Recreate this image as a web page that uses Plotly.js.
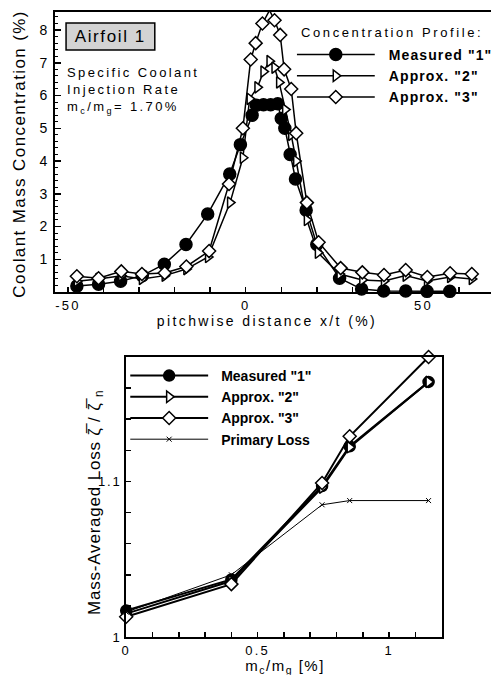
<!DOCTYPE html>
<html><head><meta charset="utf-8">
<script src="https://cdn.plot.ly/plotly-3.0.1.min.js"></script>
<style>
body{margin:0;background:#fff}
#chart{width:498px;height:675px}
.legendtext { letter-spacing: 1.1px; }
.xtick text, .x2tick text { letter-spacing: 2.2px; }
.y2tick text { letter-spacing: 1.8px; }
g.annotation[data-index="0"] text { letter-spacing: 1.6px; }
g.annotation[data-index="1"] text { letter-spacing: 2.4px; }
g.annotation[data-index="2"] text { letter-spacing: 2.6px; }
g.annotation[data-index="3"] text { letter-spacing: 2.4px; }
g.annotation[data-index="4"] text { letter-spacing: 1.4px; }
g.annotation[data-index="5"] text { letter-spacing: 1.5px; }
g.annotation[data-index="6"] text { letter-spacing: 0.8px; }
</style>
</head><body>
<div id="chart"></div>
<script>
// ---- Top chart: concentration profiles ----
const measX = [-47.5,-41.4,-35.2,-29.1,-22.9,-16.8,-10.7,-4.5,-1.5,1.8,3,5,7,9,10,11,12.5,14,17,20,26.4,32.6,38.8,45,51,57.4];
const measY = [0.18,0.24,0.33,0.5,0.85,1.45,2.38,3.6,4.5,5.4,5.7,5.72,5.72,5.75,5.3,5.0,4.2,3.45,2.5,1.45,0.42,0.09,0.03,0.03,0.02,0.02];
const appr2X = [-47.5,-41.4,-35,-29.2,-22.8,-16.7,-10.6,-4.4,-0.8,1.1,3.3,5,6.7,8.1,9.4,11.1,12.8,14.2,17.2,20.3,26.4,32.8,38.9,45,51,57.5,63.6];
const appr2Y = [0.33,0.4,0.5,0.4,0.5,0.7,1.07,2.73,4.1,5.9,6.25,6.73,7.05,6.85,6.4,5.57,4.8,4.0,2.2,1.2,0.55,0.37,0.34,0.5,0.34,0.46,0.4];
const appr3X = [-47.5,-41.4,-35,-29.2,-22.8,-16.7,-10.3,-4.7,-0.8,1.4,2.8,4.7,6.7,8.1,9.7,10.8,12.8,14.2,17.2,20.5,26.7,32.8,38.9,45,51.1,57.5,63.6];
const appr3Y = [0.48,0.42,0.63,0.55,0.58,0.78,1.25,3.3,5.0,7.1,7.6,8.2,8.6,8.3,7.85,6.8,6.2,4.85,2.73,1.52,0.73,0.6,0.52,0.67,0.46,0.57,0.55];

// ---- Bottom chart: mass-averaged loss ----
const rateX = [0, 0.4, 0.745, 0.85, 1.15];
const lossMeas = [1.017, 1.037, 1.097, 1.1226, 1.164];
const lossAppr2 = [1.015, 1.036, 1.096, 1.122, 1.164];
const lossAppr3 = [1.013, 1.034, 1.099, 1.129, 1.180];
const lossPrimary = [1.016, 1.040, 1.085, 1.0877, 1.0877];

const names = ['Measured "1"', 'Approx. "2"', 'Approx. "3"', 'Primary Loss'];
const FONT = 'Liberation Sans, Arial, sans-serif';

const mk = (sym, filled, size) => ({symbol: sym, size: size, color: filled ? '#000' : '#fff', line: {color: '#000', width: 1.5}});

const traces = [
  {x: measX, y: measY, name: names[0], mode: 'lines+markers', line: {color: '#000', width: 1.5}, marker: mk('circle', true, 12), xaxis: 'x', yaxis: 'y', legend: 'legend', cliponaxis: false},
  {x: appr2X, y: appr2Y, name: names[1], mode: 'lines+markers', line: {color: '#000', width: 1.5}, marker: mk('triangle-right', false, 10), xaxis: 'x', yaxis: 'y', legend: 'legend', cliponaxis: false},
  {x: appr3X, y: appr3Y, name: names[2], mode: 'lines+markers', line: {color: '#000', width: 1.5}, marker: mk('diamond', false, 10), xaxis: 'x', yaxis: 'y', legend: 'legend', cliponaxis: false},
  {x: rateX, y: lossMeas, name: names[0], mode: 'lines+markers', line: {color: '#000', width: 2}, marker: mk('circle', true, 11), xaxis: 'x2', yaxis: 'y2', legend: 'legend2', cliponaxis: false},
  {x: rateX, y: lossAppr2, name: names[1], mode: 'lines+markers', line: {color: '#000', width: 2}, marker: mk('triangle-right', false, 10), xaxis: 'x2', yaxis: 'y2', legend: 'legend2', cliponaxis: false},
  {x: rateX, y: lossAppr3, name: names[2], mode: 'lines+markers', line: {color: '#000', width: 2}, marker: mk('diamond', false, 10), xaxis: 'x2', yaxis: 'y2', legend: 'legend2', cliponaxis: false},
  {x: rateX, y: lossPrimary, name: names[3], mode: 'lines+markers', line: {color: '#000', width: 1}, marker: {symbol: 'x-thin', size: 5, line: {color: '#000', width: 1}}, xaxis: 'x2', yaxis: 'y2', legend: 'legend2', cliponaxis: false}
];

const tickFont = {family: FONT, size: 13, color: '#000'};
const axBase = {showgrid: false, zeroline: false, showline: true, linecolor: '#000', linewidth: 2, ticks: 'inside', ticklen: 5, tickwidth: 1.5, tickcolor: '#000', tickfont: tickFont};
const px = v => v / 498, py = v => 1 - v / 675;
const legFont = {family: FONT, size: 14, weight: 'bold', color: '#000'};

const layout = {
  width: 498, height: 675,
  margin: {l: 0, r: 0, t: 0, b: 0},
  paper_bgcolor: '#fff', plot_bgcolor: '#fff',
  font: {family: FONT, color: '#000'},
  xaxis: Object.assign({}, axBase, {domain: [0.1124, 1], range: [-53.6, 69], tickvals: [-50, 0, 50], ticktext: ['-50', '0', '50'], mirror: true, anchor: 'y',
    minor: {dtick: 10, tick0: 0, ticks: 'inside', ticklen: 5, tickwidth: 1.5, tickcolor: '#000'}}),
  yaxis: Object.assign({}, axBase, {domain: [0.5674, 0.9822], range: [0, 8.55], tickvals: [1,2,3,4,5,6,7,8], mirror: false, anchor: 'x', ticklen: 6, ticklabelstandoff: 3,
    tickfont: {family: FONT, size: 14, color: '#000'},
    minor: {dtick: 0.2, tick0: 0, ticks: 'inside', ticklen: 3, tickwidth: 1, tickcolor: '#000'}}),
  xaxis2: Object.assign({}, axBase, {domain: [0.257, 0.8996], range: [0, 1.2], tickvals: [0, 0.5, 1], ticktext: ['0', '0.5', '1'], mirror: true, anchor: 'y2',
    minor: {dtick: 0.1, tick0: 0, ticks: 'inside', ticklen: 5, tickwidth: 1.5, tickcolor: '#000'}}),
  yaxis2: Object.assign({}, axBase, {domain: [0.0563, 0.4711], range: [1, 1.18], tickvals: [1, 1.1], ticktext: ['1', '1.1'], mirror: true, anchor: 'x2',
    minor: {dtick: 0.02, tick0: 1, ticks: 'inside', ticklen: 5, tickwidth: 1.5, tickcolor: '#000'}}),
  legend: {x: px(301), y: py(39), xanchor: 'left', yanchor: 'top', bgcolor: 'rgba(0,0,0,0)', font: legFont, tracegroupgap: 0, itemwidth: 82},
  legend2: {x: px(132), y: py(360), xanchor: 'left', yanchor: 'top', bgcolor: 'rgba(0,0,0,0)', font: legFont, tracegroupgap: 0, itemwidth: 81},
  showlegend: true,
  shapes: [
    {type: 'rect', xref: 'paper', yref: 'paper', x0: px(67), x1: px(157), y0: py(50), y1: py(23), fillcolor: '#d3d3d3', line: {color: '#000', width: 1.5}, layer: 'above'}
  ],
  annotations: [
    {text: 'Airfoil 1', xref: 'paper', yref: 'paper', x: px(112), y: py(36.5), xanchor: 'center', yanchor: 'middle', showarrow: false,
     font: {family: FONT, size: 17, color: '#000'}},
    {text: 'Specific Coolant<br>Injection Rate<br>m<sub>c</sub>/m<sub>g</sub>= 1.70%', xref: 'paper', yref: 'paper', x: px(66), y: py(63), xanchor: 'left', yanchor: 'top', align: 'left', showarrow: false,
     font: {family: FONT, size: 13, color: '#000'}},
    {text: 'Concentration Profile:', xref: 'paper', yref: 'paper', x: px(303), y: py(33), xanchor: 'left', yanchor: 'middle', align: 'left', showarrow: false,
     font: {family: FONT, size: 13, color: '#000'}},
    {text: 'pitchwise distance x/t (%)', xref: 'paper', yref: 'paper', x: px(271), y: py(321), xanchor: 'center', yanchor: 'middle', showarrow: false,
     font: {family: FONT, size: 14, color: '#000'}},
    {text: 'Coolant Mass Concentration (%)', xref: 'paper', yref: 'paper', x: px(19), y: py(154), xanchor: 'center', yanchor: 'middle', textangle: -90, showarrow: false,
     font: {family: FONT, size: 17, color: '#000'}},
    {text: 'm<sub>c</sub>/m<sub>g</sub> [%]', xref: 'paper', yref: 'paper', x: px(289), y: py(666), xanchor: 'center', yanchor: 'middle', showarrow: false,
     font: {family: FONT, size: 15, color: '#000'}},
    {text: 'Mass-Averaged Loss ζ\u0305 / ζ\u0305 <sub>n</sub>', xref: 'paper', yref: 'paper', x: px(97), y: py(502), xanchor: 'center', yanchor: 'middle', textangle: -90, showarrow: false,
     font: {family: FONT, size: 17, color: '#000'}}
  ]
};

Plotly.newPlot('chart', traces, layout, {staticPlot: true, displayModeBar: false}).then(() => {
  // stretch legend sample lines to match the reference (longer line, marker centred on it)
  document.querySelectorAll('.legendlines path').forEach(p => p.setAttribute('d', 'M0,0h78'));
  document.querySelectorAll('.legendpoints path').forEach(p => p.setAttribute('transform', 'translate(39,0)'));
});
</script>
</body></html>
